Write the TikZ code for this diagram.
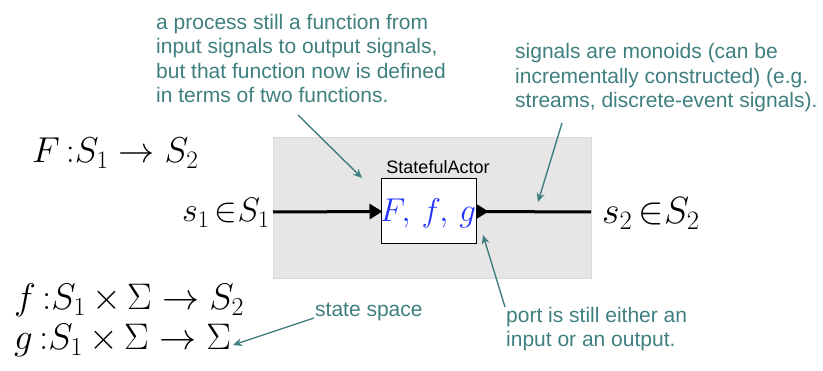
\RequirePackage{fix-cm}
\documentclass[tikz,border=0pt]{standalone}
\usepackage{fontspec}
\setsansfont{Liberation Sans}
\usetikzlibrary{arrows.meta}
\definecolor{teal1}{HTML}{3F7F7F}
\definecolor{boxgray}{HTML}{E6E6E6}
\definecolor{actblue}{HTML}{2233FF}
\tikzset{
  note/.style={text=teal1, font=\sffamily\fontsize{21}{24.5}\selectfont, align=left, inner sep=0pt, anchor=base west},
  notearrow/.style={draw=teal1, line width=1.4pt, -{Stealth[length=9pt,width=8pt]}},
  mathbig/.style={font=\fontsize{36}{40}\selectfont, inner sep=0pt, anchor=base west},
  mathmid/.style={font=\fontsize{34}{38}\selectfont, inner sep=0pt, anchor=base west},
  signal/.style={line width=3pt},
}
\begin{document}
\begin{tikzpicture}[x=1pt,y=-1pt]
\useasboundingbox (0,0) rectangle (823,371);
% background actor area
\node[draw=black!15, fill=boxgray, minimum width=318pt, minimum height=141pt, anchor=north west, inner sep=0pt] (bg) at (273,137) {};
\node[draw, fill=white, line width=1pt, minimum width=95pt, minimum height=65pt, inner sep=0pt] (box) at (428.5,211.5) {};
\node[font=\sffamily\fontsize{18}{20}\selectfont, inner sep=0pt] (lbl) at (438,167) {StatefulActor};
\node[text=actblue, font=\fontsize{33}{38}\selectfont, inner sep=0pt] (fn) at (428,213) {$F,\,f,\,g$};
% signal lines
\coordinate (inL) at (273,212);
\coordinate (outR) at (591,212);
\draw[signal, -{Triangle[length=13pt,width=15pt]}] (inL) -- ([xshift=2pt]box.west);
\draw[signal] (box.east) -- (outR);
\fill ([yshift=7.5pt]box.east) -- ++(12,7.5) -- ++(-12,7.5) -- cycle;
% math
\node[mathbig] (Fdef) at (32,163) {$F\,{:}S_1 \rightarrow S_2$};
\node[mathmid] (s1) at (182,222) {$s_1\,{\in}S_1$};
\node[mathbig, font=\fontsize{38}{40}\selectfont] (s2) at (602,224) {$s_2\,{\in}S_2$};
\node[mathbig, font=\fontsize{37}{40}\selectfont] (fdef) at (14,310) {$f\,{:}S_1 \,{\times}\, \Sigma \rightarrow S_2$};
\node[mathbig, font=\fontsize{37}{40}\selectfont] (gdef) at (14,350) {$g\,{:}S_1 \,{\times}\, \Sigma \rightarrow \Sigma$};
% notes
\node[note] (n1) at (156,103) {a process still a function from\\input signals to output signals,\\but that function now is defined\\in terms of two functions.};
\node[note] (n2) at (515,108) {signals are monoids (can be\\incrementally constructed) (e.g.\\streams, discrete-event signals).};
\node[note] (n3) at (506,347) {port is still either an\\input or an output.};
\node[note] (n4) at (315,317) {state space};
\coordinate (a1s) at (298,115);
\coordinate (a1e) at (362,178);
\coordinate (a2s) at (562,123);
\coordinate (a2e) at (538,202);
\coordinate (a3s) at (505,307);
\coordinate (a3e) at (483,235);
\coordinate (a4e) at (233,345);
\draw[notearrow] (a1s) -- (a1e);
\draw[notearrow] (a2s) -- (a2e);
\draw[notearrow] (a3s) -- (a3e);
\draw[notearrow] ([xshift=-1pt,yshift=-1pt]n4.base west) -- (a4e);
\end{tikzpicture}
\end{document}
